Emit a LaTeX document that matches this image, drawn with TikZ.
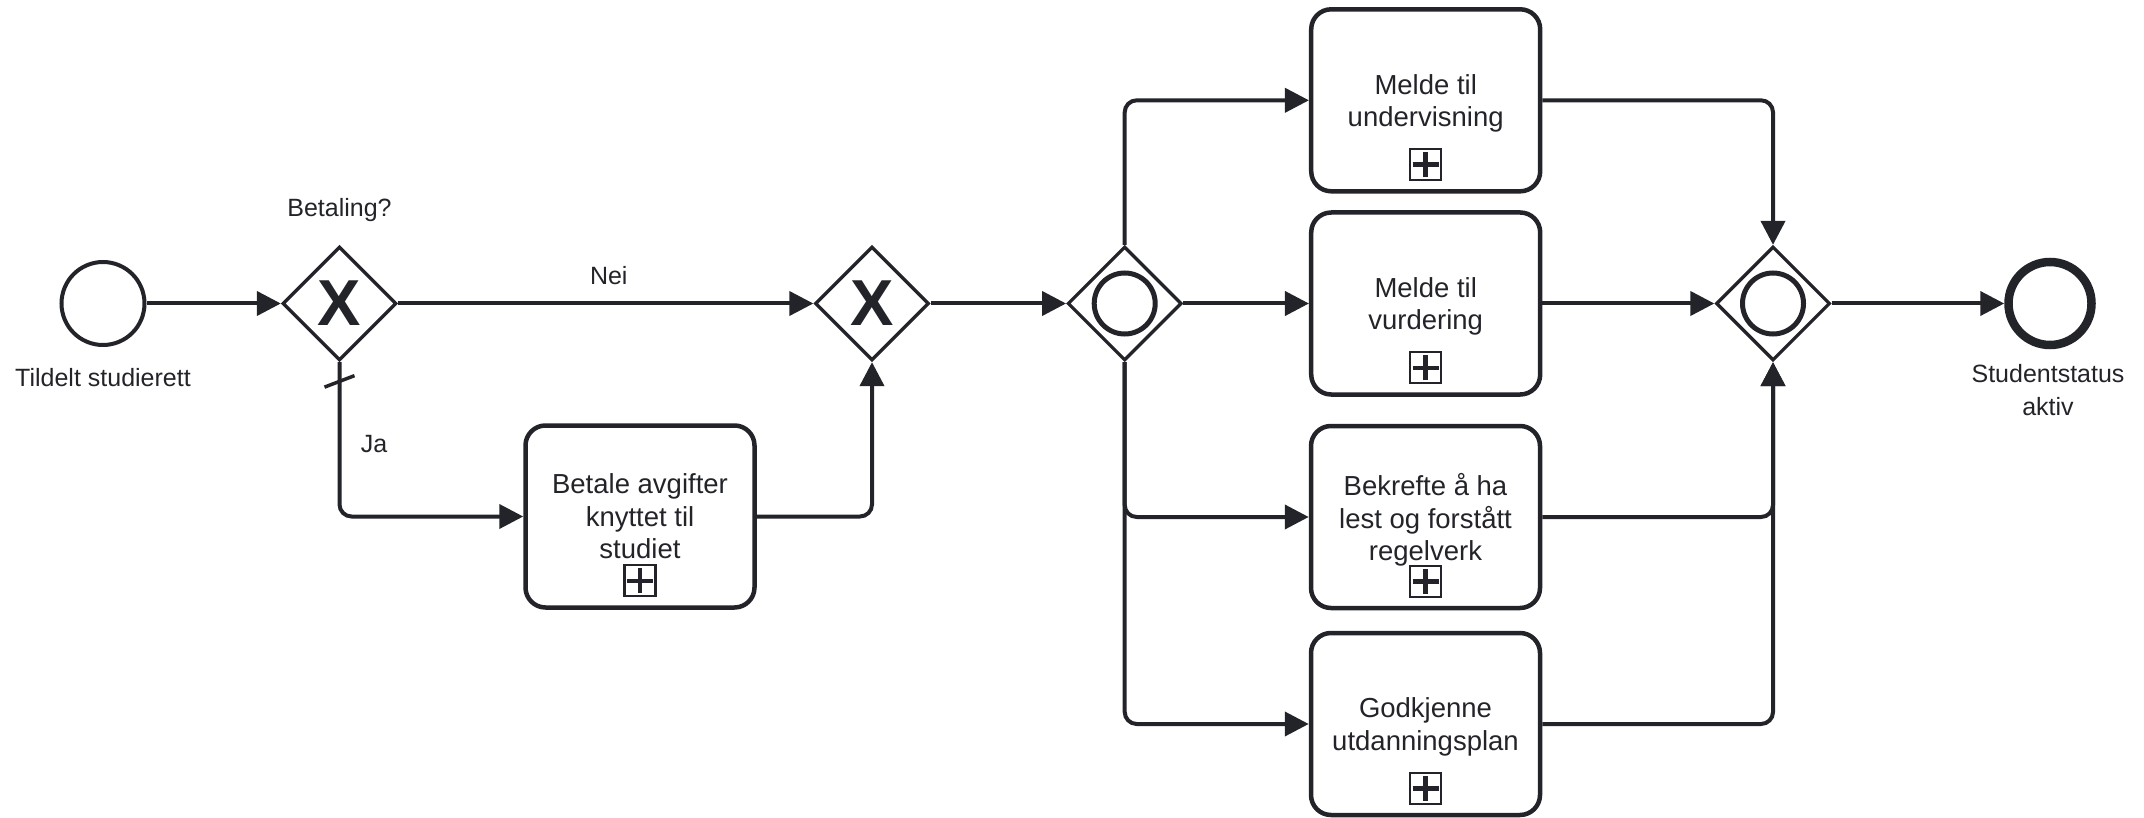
\documentclass[tikz,border=0pt]{standalone}
\usepackage{fontspec}
\setmainfont{Liberation Sans}
\usetikzlibrary{shapes.geometric,arrows.meta}
\definecolor{ink}{RGB}{34,36,41}
\begin{document}
\begin{tikzpicture}[x=1pt,y=-1pt,
  txt/.style={font=\fontsize{25pt}{32.5pt}\selectfont, text=ink, inner sep=0pt},
  task/.style={draw=ink, line width=4.5pt, rounded corners=20pt, minimum width=229pt, minimum height=182pt,
    align=center, font=\fontsize{27.5pt}{32.5pt}\selectfont, text=ink, inner sep=0pt, text depth=0pt},
  gw/.style={diamond, draw=ink, line width=3.3pt, minimum size=114pt, inner sep=0pt, aspect=1},
  startev/.style={circle, draw=ink, line width=4pt, minimum size=83pt, inner sep=0pt},
  endev/.style={circle, draw=ink, line width=8.5pt, minimum size=83pt, inner sep=0pt},
  ring/.style={circle, draw=ink, line width=5pt, minimum size=61pt, inner sep=0pt},
  xmark/.style={font=\fontsize{65pt}{65pt}\selectfont\bfseries, text=ink, inner sep=0pt},
  plusbox/.style={draw=ink, line width=2.2pt, minimum size=31pt, inner sep=0pt,
    path picture={\draw[ink, line width=4.5pt]
      ([xshift=-13pt]path picture bounding box.center) -- ([xshift=13pt]path picture bounding box.center)
      ([yshift=-12.5pt]path picture bounding box.center) -- ([yshift=12.5pt]path picture bounding box.center);}},
  flow/.style={draw=ink, line width=4pt, rounded corners=12pt, -{Triangle[length=24pt,width=24pt]}},
  tick/.style={draw=ink, line width=3.5pt}
]
\useasboundingbox (0,0) rectangle (2144,818);

% events and gateways
\node[startev] (start) at (103,303.5) {};
\node[gw] (g1) at (339.5,303.5) {};
\node[xmark] (x1) at (g1.center) {X};
\node[gw] (g2) at (872,303.5) {};
\node[xmark] (x2) at (g2.center) {X};
\node[gw] (g3) at (1124.7,303.5) {};
\node[ring] (r3) at (g3.center) {};
\node[gw] (g4) at (1773,303.5) {};
\node[ring] (r4) at (g4.center) {};
\node[endev] (end) at (2050,303.5) {};

% tasks
\node[task] (betale) at (640,516.5) {Betale avgifter\\knyttet til\\studiet};
\node[task] (m1) at (1425.7,100.3) {Melde til\\undervisning};
\node[task] (m2) at (1425.7,303.5) {Melde til\\vurdering};
\node[task] (b3) at (1425.5,517) {Bekrefte å ha\\lest og forstått\\regelverk};
\node[task] (gk) at (1425.5,724) {Godkjenne\\utdanningsplan};

\node[plusbox] (p1) at ([yshift=29pt]betale.south) {};
\node[plusbox] (p2) at ([yshift=29pt]m1.south) {};
\node[plusbox] (p3) at ([yshift=29pt]m2.south) {};
\node[plusbox] (p4) at ([yshift=29pt]b3.south) {};
\node[plusbox] (p5) at ([yshift=29pt]gk.south) {};

% labels
\node[txt, anchor=base] (lbet) at (339.5,216.7) {Betaling?};
\node[txt, anchor=base] (lstart) at (103,386.7) {Tildelt studierett};
\node[txt, align=center] (lend) at (2048,390) {Studentstatus\\aktiv};
\node[txt, anchor=base] (lja) at (374,452) {Ja};

% flows
\draw[flow] (start.east) -- (g1.west);
\draw[flow] (g1.east) -- node[txt, anchor=base, yshift=18.5pt, xshift=3pt] (lnei) {Nei} (g2.west);
\draw[flow] (g1.south) |- (betale.west);
\draw[tick] ([shift={(-15,25)}]g1.south) -- ([shift={(15,13.5)}]g1.south);
\draw[flow] (betale.east) -| (g2.south);
\draw[flow] (g2.east) -- (g3.west);
\draw[flow] (g3.north) |- (m1.west);
\draw[flow] (g3.east) -- (m2.west);
\draw[flow] (g3.south) |- (b3.west);
\draw[flow] (g3.south) |- (gk.west);
\draw[flow] (m1.east) -| (g4.north);
\draw[flow] (m2.east) -- (g4.west);
\draw[flow] (b3.east) -| (g4.south);
\draw[flow] (gk.east) -| (g4.south);
\draw[flow] (g4.east) -- (end.west);
\end{tikzpicture}
\end{document}
